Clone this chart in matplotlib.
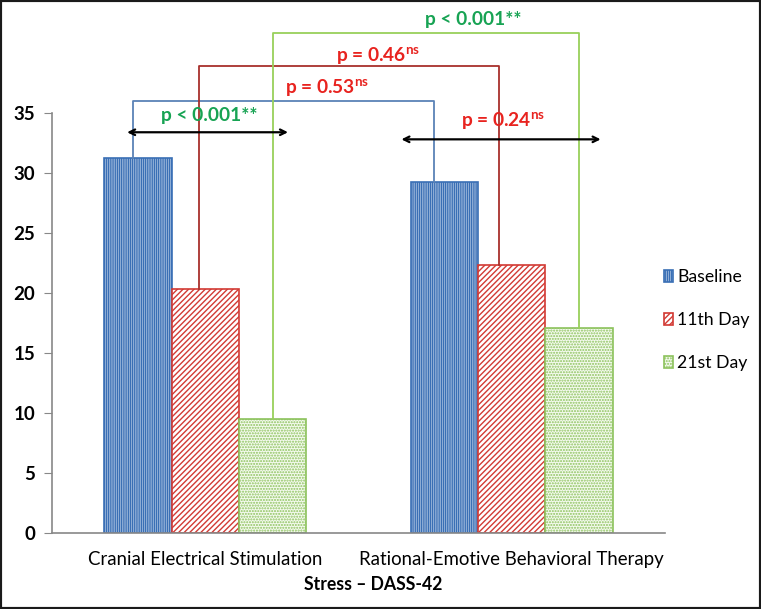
import numpy as np
import matplotlib
matplotlib.use('Agg')
import matplotlib.pyplot as plt
from matplotlib.patches import Rectangle

plt.rcParams['font.family'] = ['Lato', 'DejaVu Sans']
plt.rcParams['mathtext.fontset'] = 'custom'
plt.rcParams['mathtext.rm'] = 'Lato'
plt.rcParams['mathtext.bf'] = 'Lato:bold'
plt.rcParams['hatch.linewidth'] = 1.0

# data
groups = ['Cranial Electrical Stimulation', 'Rational-Emotive Behavioral Therapy']
series = ['Baseline', '11th Day', '21st Day']
baseline = [31.3, 29.25]
day11 = [20.35, 22.35]
day21 = [9.55, 17.1]
values = [baseline, day11, day21]

# comparison brackets between the two therapies (one per time point)
bracket_labels = ['p = 0.53$^{\\mathbf{ns}}$', 'p = 0.46$^{\\mathbf{ns}}$', 'p < 0.001**']
bracket_heights = [36.0, 38.95, 41.7]
bracket_left = [-0.235, -0.02, 0.22]
bracket_right = [0.745, 0.958, 1.22]
bracket_label_x = [0.397, 0.564, 0.874]
bracket_label_y = [37.1, 39.75, 42.85]

# within-group comparisons (double arrows)
within_labels = ['p < 0.001**', 'p = 0.24$^{\\mathbf{ns}}$']
within_x0 = [-0.255, 0.64]
within_x1 = [0.27, 1.29]
within_y = [33.42, 32.83]
within_label_x = [0.014, 0.971]
within_label_y = [34.85, 34.35]

hatches = ['|||||||||', '//////', '......']
edge_colors = ['#3a6fb5', '#d23a34', '#8cc25c']
face_colors = ['#eef4fb', 'white', '#f4faee']
bracket_colors = ['#5b82b6', '#a8302c', '#98d05a']
bracket_text_colors = ['#e8231f', '#e8231f', '#17a353']
within_text_colors = ['#17a353', '#e8231f']

fig = plt.figure(figsize=(7.61, 6.09), dpi=100)
ax = fig.add_axes([52 / 761, 1 - 533.3 / 609, 613 / 761, 420 / 609])

x = np.arange(len(groups))
width = 0.22
offsets = [-width, 0, width]
for i, name in enumerate(series):
    ax.bar(x + offsets[i], values[i], width, label=name, color=face_colors[i],
           edgecolor=edge_colors[i], hatch=hatches[i], linewidth=1.2)

# brackets
for i in range(3):
    xl, xr, h = bracket_left[i], bracket_right[i], bracket_heights[i]
    ax.plot([xl, xl, xr, xr], [values[i][0], h, h, values[i][1]],
            color=bracket_colors[i], lw=1.3, clip_on=False, zorder=3)
    ax.text(bracket_label_x[i], bracket_label_y[i], bracket_labels[i], color=bracket_text_colors[i],
            fontsize=13.8, fontweight='bold', ha='center', va='center', clip_on=False)

for i in range(2):
    ax.annotate('', xy=(within_x1[i], within_y[i]), xytext=(within_x0[i], within_y[i]),
                arrowprops=dict(arrowstyle='<->', color='black', lw=1.6, shrinkA=0, shrinkB=0),
                annotation_clip=False)
    ax.text(within_label_x[i], within_label_y[i], within_labels[i], color=within_text_colors[i],
            fontsize=13.8, fontweight='bold', ha='center', va='center', clip_on=False)

ax.set_xlim(-0.5, 1.5)
ax.set_ylim(0, 35)
ax.set_yticks(np.arange(0, 36, 5))
ax.set_xticks(x)
ax.set_xticklabels(groups, fontsize=13.4)
ax.tick_params(axis='x', length=0, pad=13)
ax.tick_params(axis='y', length=6, color='#888888', labelsize=13.5, pad=6)
for lbl in ax.get_yticklabels():
    lbl.set_fontweight('bold')
for s in ['top', 'right']:
    ax.spines[s].set_visible(False)
for s in ['left', 'bottom']:
    ax.spines[s].set_color('#888888')
    ax.spines[s].set_linewidth(1.2)

fig.text(373 / 761, 1 - 585 / 609, 'Stress \u2013 DASS-42', fontsize=12.7, fontweight='bold',
         ha='center', va='center')

ax.legend(loc='upper left', bbox_to_anchor=(664 / 761, 1 - 269 / 609), bbox_transform=fig.transFigure,
          frameon=False, fontsize=12.7, handlelength=0.5, handleheight=0.7, handletextpad=0.25,
          labelspacing=1.54, borderpad=0, borderaxespad=0)

fig.add_artist(Rectangle((0, 0), 1, 1, transform=fig.transFigure, fill=False,
                         edgecolor='#1a1a1a', linewidth=3))

fig.savefig('out.png', dpi=100)
